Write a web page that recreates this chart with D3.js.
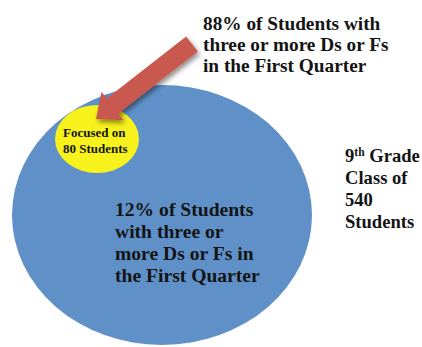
<!DOCTYPE html>
<html><head><meta charset="utf-8">
<script src="https://cdn.jsdelivr.net/npm/d3@7"></script>
<style>html,body{margin:0;padding:0;background:#fff;}svg{display:block;}</style>
</head><body>
<script>
const categories = ["9th Grade Class", "Focused"];
const counts = [540, 80];
const topLabel = ["88% of Students with", "three or more Ds or Fs", "in the First Quarter"];
const focusLabel = ["Focused on", "80 Students"];
const classLabel = ["9th Grade", "Class of", "540", "Students"];
const centerLabel = ["12% of Students", "with three or", "more Ds or Fs in", "the First Quarter"];

const W = 422, H = 347;
const svg = d3.select("body").append("svg").attr("width", W).attr("height", H);
const defs = svg.append("defs");
const f = defs.append("filter").attr("id","sh").attr("x","-30%").attr("y","-30%").attr("width","160%").attr("height","160%");
f.append("feDropShadow").attr("dx",2).attr("dy",3).attr("stdDeviation",2.5).attr("flood-color","#000").attr("flood-opacity",0.45);

const font = "'Liberation Serif', 'DejaVu Serif', serif";

// big ellipse (class)
svg.append("ellipse").attr("cx",162).attr("cy",215).attr("rx",150).attr("ry",130).attr("fill","#5f91c8");
// focused circle
svg.append("ellipse").attr("cx",97).attr("cy",139).attr("rx",42).attr("ry",34).attr("fill","#f7f21c");

// arrow
const tail = [192,44], tip = [96,119];
const dx = tip[0]-tail[0], dy = tip[1]-tail[1];
const L = Math.hypot(dx,dy), ux = dx/L, uy = dy/L, px = -uy, py = ux;
const sw = 9.5, hw = 18, hl = 21;
const bx = tip[0]-ux*hl, by = tip[1]-uy*hl;
const pts = [
  [tail[0]+px*sw, tail[1]+py*sw],
  [bx+px*sw, by+py*sw],
  [bx+px*hw, by+py*hw],
  tip,
  [bx-px*hw, by-py*hw],
  [bx-px*sw, by-py*sw],
  [tail[0]-px*sw, tail[1]-py*sw]
];
svg.append("path").attr("d", d3.line()(pts)+"Z").attr("fill","#c95850").attr("filter","url(#sh)");

function block(lines, x, y0, lh, size){
  const t = svg.append("text").attr("font-family",font).attr("font-weight","bold")
    .attr("font-size",size).attr("fill","#141414");
  lines.forEach((s,i)=>{
    t.append("tspan").attr("x",x).attr("y",y0+i*lh).text(s);
  });
  return t;
}
block(topLabel, 203, 30, 21, 19.3);
block(focusLabel, 63, 137, 16, 13);
block(centerLabel, 115, 216, 22, 19.6);
const cl = svg.append("text").attr("font-family",font).attr("font-weight","bold").attr("font-size",18.6).attr("fill","#141414");
classLabel.forEach((s,i)=>{
  const ts = cl.append("tspan").attr("x",345).attr("y",162+i*22);
  if(i===0){
    ts.text("9");
    cl.append("tspan").attr("dy",-6).attr("font-size",11.5).text("th");
    cl.append("tspan").attr("dy",6).text(" Grade");
  } else ts.text(s);
});
</script>
</body></html>
